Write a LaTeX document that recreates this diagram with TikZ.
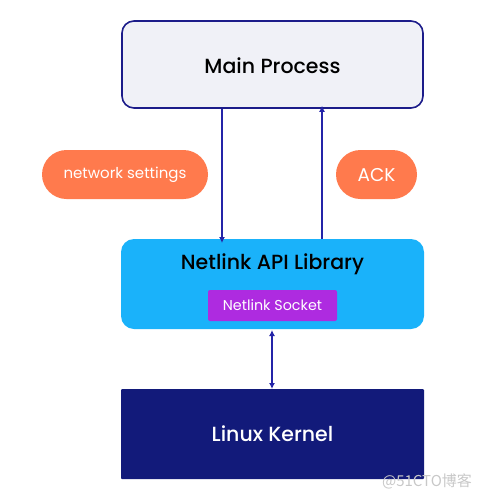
\documentclass[tikz,border=0pt]{standalone}
\usepackage{fontspec}
\setmainfont{Poppins}
\newfontfamily\medfont{Poppins Medium}
\newfontfamily\cjkfont{Noto Sans CJK SC}
\usetikzlibrary{arrows.meta}
\definecolor{mainfill}{HTML}{F0F1F7}
\definecolor{mainborder}{HTML}{1C1C8A}
\definecolor{arrowcol}{HTML}{2424A8}
\definecolor{libfill}{HTML}{1AB2FA}
\definecolor{sockfill}{HTML}{AE2BE0}
\definecolor{kernfill}{HTML}{121A7A}
\definecolor{pillfill}{HTML}{FF7A4D}
\definecolor{wmark}{HTML}{C8C8C8}
\tikzset{
  conn/.style={draw=arrowcol, line width=1.7pt, -{Latex[length=6pt,width=6pt]}},
  biconn/.style={draw=arrowcol, line width=1.7pt, {Latex[length=6pt,width=6pt]}-{Latex[length=6pt,width=6pt]}},
  pill/.style={fill=pillfill, rounded corners=24.5pt},
  boxlabel/.style={font=\medfont\fontsize{20.5}{24}\selectfont},
}
\begin{document}
\begin{tikzpicture}[x=1pt,y=-1pt]
\useasboundingbox (0,0) rectangle (487,499);
% boxes
\draw[fill=mainfill, draw=mainborder, line width=1.6pt, rounded corners=12pt] (122,21) rectangle (423,108);
\node[boxlabel] (main) at (272.5,66) {Main Process};
\coordinate (mainL) at (222,108.8);
\coordinate (mainR) at (322,108.8);
\fill[libfill, rounded corners=13pt] (121,239) rectangle (424,329);
\node[boxlabel] (lib) at (272.5,264) {Netlink API Library};
\coordinate (libL) at (222,239);
\coordinate (libR) at (322,239);
\fill[sockfill, rounded corners=2pt] (208,290) rectangle (337,321);
\node[text=white, font=\fontsize{14.3}{17}\selectfont] (sock) at (272.5,305.5) {Netlink Socket};
\coordinate (libB) at (272,330);
\fill[kernfill, rounded corners=1pt] (121,389) rectangle (424,479);
\node[boxlabel, text=white] (kern) at (272.5,434) {Linux Kernel};
\coordinate (kernT) at (272,389);
% pills
\path[pill] (42,150) rectangle (208,199);
\node[text=white, font=\fontsize{15}{18}\selectfont] (ns) at (125,175) {network settings};
\path[pill] (336,150) rectangle (417,199);
\node[text=white, font=\fontsize{18.5}{22}\selectfont] (ack) at (376.5,175.5) {ACK};
% connectors
\draw[conn] (mainL) -- ([yshift=-4]libL);
\draw[conn] (libR) -- ([yshift=3]mainR);
\draw[biconn] (libB) -- (kernT);
% watermark
\node[text=wmark, font=\cjkfont\fontsize{15}{18}\selectfont] (wm) at (427,481) {@51CTO博客};
\end{tikzpicture}
\end{document}
